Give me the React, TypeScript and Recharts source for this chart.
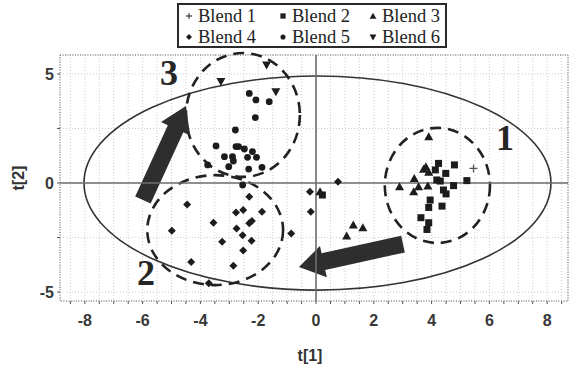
import {
  ScatterChart,
  Scatter,
  XAxis,
  YAxis,
  CartesianGrid,
  ReferenceLine,
  ReferenceArea,
  ReferenceDot,
} from "recharts";

const INK = "#1c1c1c";
const AXIS_FONT = "'Liberation Sans', Arial, sans-serif";
const SERIF = "'Liberation Serif', 'Times New Roman', serif";

// score values [t1, t2]
const BLEND_1: [number, number][] = [[5.45, 0.67]];
const BLEND_2: [number, number][] = [
  [4.24, 0.9], [4.79, 0.83], [4.49, 0.44], [4.13, 0.6], [4.18, 0.14],
  [4.3, 0.09], [4.41, -0.32], [4.5, -0.5], [4.76, -0.12], [5.22, 0.11],
  [3.95, -0.78], [3.9, -1.12], [4.36, -1.06], [3.63, -1.59], [3.9, -1.82],
  [3.84, -2.13], [0.22, -0.55],
];
const BLEND_3: [number, number][] = [
  [3.9, 2.12], [3.72, 0.63], [3.9, 0.49], [3.8, 0.75], [3.4, 0.21],
  [2.89, -0.17], [3.38, -0.4], [3.55, -0.17], [3.87, -0.14], [1.29, -1.93],
  [1.62, -2.05], [1.06, -2.43], [0.14, -0.4],
];
const BLEND_4: [number, number][] = [
  [-4.46, -0.98], [-4.99, -2.19], [-3.55, -1.82], [-2.77, -1.35], [-2.52, -1.24],
  [-1.87, -1.32], [-2.31, -1.85], [-2.22, -1.74], [-2.75, -2.08], [-2.54, -2.39],
  [-2.23, -2.65], [-3.25, -2.69], [-2.52, -3.1], [-4.32, -3.62], [-2.86, -3.79],
  [-3.71, -4.6], [-0.86, -2.31], [-2.31, -0.63], [0.76, 0.06], [-0.21, -0.4],
  [-0.18, -1.32],
];
const BLEND_5: [number, number][] = [
  [-2.31, 4.11], [-2.08, 3.81], [-1.62, 3.73], [-2.1, 3.0], [-2.79, 2.43],
  [-3.46, 1.7], [-2.77, 1.67], [-2.68, 1.67], [-2.48, 1.56], [-2.2, 1.44],
  [-3.17, 1.21], [-2.89, 1.21], [-2.86, 1.01], [-2.37, 1.18], [-2.06, 1.18],
  [-3.02, 0.75], [-2.33, 0.64], [-1.87, 0.72], [-3.75, 0.83], [-2.54, -0.09],
];
const BLEND_6: [number, number][] = [[-1.71, 5.41], [-1.39, 4.19], [-3.29, 4.65]];

const X_DOMAIN: [number, number] = [-8.86, 8.72];
const Y_DOMAIN: [number, number] = [-5.41, 5.87];
const X_TICKS = Array.from({ length: 35 }, (_, i) => -8.5 + i * 0.5);
const Y_TICKS = [-5, -2.5, 0, 2.5, 5];

// cluster outlines: [cx, cy, rx, ry]
const CLUSTERS: [number, number, number, number][] = [
  [4.2, -0.11, 1.82, 2.64],
  [-3.49, -2.16, 2.35, 2.52],
  [-2.53, 3.12, 1.97, 2.84],
];
const CLUSTER_LABELS = [
  { text: "1", x: 6.54, y: 2.05 },
  { text: "2", x: -5.88, y: -4.13 },
  { text: "3", x: -5.09, y: 5.05 },
];
// arrows: tail -> tip
const ARROWS = [
  { from: [-5.99, -0.78], to: [-4.5, 3.53] },
  { from: [3.01, -2.8], to: [-0.59, -3.85] },
];

const toPoints = (rows: [number, number][]) => rows.map(([x, y]) => ({ x, y }));

type MarkKind = "plus" | "square" | "up" | "diamond" | "circle" | "down";

const Mark = ({ kind, cx, cy, s = 1 }: { kind: MarkKind; cx: number; cy: number; s?: number }) => {
  switch (kind) {
    case "plus":
      return (
        <path
          d={`M${cx - 4 * s},${cy}H${cx + 4 * s}M${cx},${cy - 4 * s}V${cy + 4 * s}`}
          stroke="#555"
          strokeWidth={1.3}
        />
      );
    case "square":
      return <rect x={cx - 3.5 * s} y={cy - 3.5 * s} width={7 * s} height={7 * s} fill={INK} />;
    case "up":
      return (
        <polygon
          points={`${cx},${cy - 4.5 * s} ${cx + 4.5 * s},${cy + 3.5 * s} ${cx - 4.5 * s},${cy + 3.5 * s}`}
          fill={INK}
        />
      );
    case "down":
      return (
        <polygon
          points={`${cx},${cy + 4.5 * s} ${cx + 4.5 * s},${cy - 3.5 * s} ${cx - 4.5 * s},${cy - 3.5 * s}`}
          fill={INK}
        />
      );
    case "diamond":
      return (
        <polygon
          points={`${cx},${cy - 4 * s} ${cx + 4 * s},${cy} ${cx},${cy + 4 * s} ${cx - 4 * s},${cy}`}
          fill={INK}
        />
      );
    default:
      return <circle cx={cx} cy={cy} r={3.4 * s} fill={INK} />;
  }
};

const shapeOf = (kind: MarkKind) => (props: any) => <Mark kind={kind} cx={props.cx} cy={props.cy} />;

const SERIES: { name: string; kind: MarkKind; rows: [number, number][] }[] = [
  { name: "Blend 1", kind: "plus", rows: BLEND_1 },
  { name: "Blend 2", kind: "square", rows: BLEND_2 },
  { name: "Blend 3", kind: "up", rows: BLEND_3 },
  { name: "Blend 4", kind: "diamond", rows: BLEND_4 },
  { name: "Blend 5", kind: "circle", rows: BLEND_5 },
  { name: "Blend 6", kind: "down", rows: BLEND_6 },
];

const ovalShape = (dashed: boolean) => (props: any) => {
  const { x, y, width, height } = props;
  return (
    <ellipse
      cx={x + width / 2}
      cy={y + height / 2}
      rx={width / 2}
      ry={height / 2}
      fill="none"
      stroke={dashed ? "#222" : "#333"}
      strokeWidth={dashed ? 2.6 : 1.6}
      strokeDasharray={dashed ? "11 7" : undefined}
    />
  );
};

const arrowShape = (upRight: boolean) => (props: any) => {
  const { x, y, width, height } = props;
  const tail = upRight ? [x, y + height] : [x + width, y];
  const tip = upRight ? [x + width, y] : [x, y + height];
  const dx = tip[0] - tail[0];
  const dy = tip[1] - tail[1];
  const len = Math.hypot(dx, dy) || 1;
  const ux = dx / len;
  const uy = dy / len;
  const nx = -uy;
  const ny = ux;
  const shaft = 8.5;
  const head = 16;
  const headLen = 25;
  const bx = tip[0] - ux * headLen;
  const by = tip[1] - uy * headLen;
  const pts = [
    [tail[0] + nx * shaft, tail[1] + ny * shaft],
    [bx + nx * shaft, by + ny * shaft],
    [bx + nx * head, by + ny * head],
    [tip[0], tip[1]],
    [bx - nx * head, by - ny * head],
    [bx - nx * shaft, by - ny * shaft],
    [tail[0] - nx * shaft, tail[1] - ny * shaft],
  ];
  return <polygon points={pts.map((p) => p.join(",")).join(" ")} fill="#2e2e2e" />;
};

const labelShape = (text: string) => (props: any) => (
  <text
    x={props.cx}
    y={props.cy}
    textAnchor="middle"
    dominantBaseline="central"
    fontFamily={SERIF}
    fontWeight="bold"
    fontSize={36}
    fill="#262626"
  >
    {text}
  </text>
);

const tickStyle = { fill: "#383838", fontSize: 16, fontWeight: 700, fontFamily: AXIS_FONT };

const Legend = () => (
  <div
    style={{
      position: "absolute",
      left: 177,
      top: 3,
      width: 270,
      height: 45,
      border: "2px solid #2a2a2a",
      background: "#fff",
      fontFamily: SERIF,
      fontSize: 18.5,
      color: "#222",
      display: "grid",
      gridTemplateColumns: "94px 90px 80px",
      gridTemplateRows: "21px 21px",
      paddingLeft: 4,
      boxSizing: "border-box",
      alignItems: "center",
      lineHeight: "20px",
    }}
  >
    {SERIES.map((s) => (
      <div key={s.name} style={{ display: "flex", alignItems: "center", whiteSpace: "nowrap" }}>
        <svg width={12} height={12} style={{ marginRight: 3 }}>
          <Mark kind={s.kind} cx={6} cy={6} s={0.75} />
        </svg>
        {s.name}
      </div>
    ))}
  </div>
);

export default function App() {
  return (
    <div style={{ position: "absolute", left: 0, top: 0, width: 573, height: 367, background: "#fff" }}>
      <ScatterChart width={573} height={367} margin={{ top: 55, right: 5, bottom: 4, left: 0 }}>
        <CartesianGrid stroke="#cdcdcd" strokeDasharray="1 2" />
        <ReferenceArea
          x1={X_DOMAIN[0]}
          x2={X_DOMAIN[1]}
          y1={Y_DOMAIN[0]}
          y2={Y_DOMAIN[1]}
          fill="none"
          stroke="#666"
          strokeDasharray="1 1.5"
          ifOverflow="visible"
        />
        <XAxis
          type="number"
          dataKey="x"
          domain={X_DOMAIN}
          ticks={X_TICKS}
          interval={0}
          allowDataOverflow
          height={62}
          axisLine={false}
          tickLine={{ stroke: "#555" }}
          tickSize={3}
          tickMargin={11}
          tick={tickStyle}
          tickFormatter={(v: number) => (Number.isInteger(v) && v % 2 === 0 ? String(v) : "")}
          label={(props: any) => {
            const vb = props.viewBox;
            return (
              <text
                x={vb.x + vb.width / 2 - 4}
                y={vb.y + 60}
                textAnchor="middle"
                fontFamily={AXIS_FONT}
                fontWeight="bold"
                fontSize={16}
                fill="#333"
              >
                t[1]
              </text>
            );
          }}
        />
        <YAxis
          type="number"
          dataKey="y"
          domain={Y_DOMAIN}
          ticks={Y_TICKS}
          interval={0}
          allowDataOverflow
          width={60}
          axisLine={false}
          tickLine={{ stroke: "#555" }}
          tickSize={3}
          tickMargin={3}
          tick={tickStyle}
          tickFormatter={(v: number) => (v % 5 === 0 ? String(v) : "")}
          label={(props: any) => {
            const vb = props.viewBox;
            const cx = 18;
            const cy = vb.y + vb.height / 2;
            return (
              <text
                x={cx}
                y={cy}
                transform={`rotate(-90 ${cx} ${cy})`}
                textAnchor="middle"
                dominantBaseline="central"
                fontFamily={AXIS_FONT}
                fontWeight="bold"
                fontSize={16}
                fill="#333"
              >
                t[2]
              </text>
            );
          }}
        />
        <ReferenceLine y={0} stroke="#6e6e6e" strokeWidth={1.6} />
        <ReferenceLine x={0} stroke="#6e6e6e" strokeWidth={1.6} />
        <ReferenceArea
          x1={-8.03}
          x2={8.13}
          y1={-4.91}
          y2={4.91}
          ifOverflow="visible"
          shape={ovalShape(false)}
        />
        {CLUSTERS.map(([cx, cy, rx, ry], i) => (
          <ReferenceArea
            key={`c${i}`}
            x1={cx - rx}
            x2={cx + rx}
            y1={cy - ry}
            y2={cy + ry}
            ifOverflow="visible"
            shape={ovalShape(true)}
          />
        ))}
        {ARROWS.map((a, i) => (
          <ReferenceArea
            key={`a${i}`}
            x1={Math.min(a.from[0], a.to[0])}
            x2={Math.max(a.from[0], a.to[0])}
            y1={Math.min(a.from[1], a.to[1])}
            y2={Math.max(a.from[1], a.to[1])}
            ifOverflow="visible"
            shape={arrowShape(a.to[0] > a.from[0])}
          />
        ))}
        {CLUSTER_LABELS.map((l) => (
          <ReferenceDot key={l.text} x={l.x} y={l.y} r={1} ifOverflow="visible" shape={labelShape(l.text)} />
        ))}
        {SERIES.map((s) => (
          <Scatter
            key={s.name}
            name={s.name}
            data={toPoints(s.rows)}
            shape={shapeOf(s.kind)}
            isAnimationActive={false}
          />
        ))}
      </ScatterChart>
      <Legend />
    </div>
  );
}
